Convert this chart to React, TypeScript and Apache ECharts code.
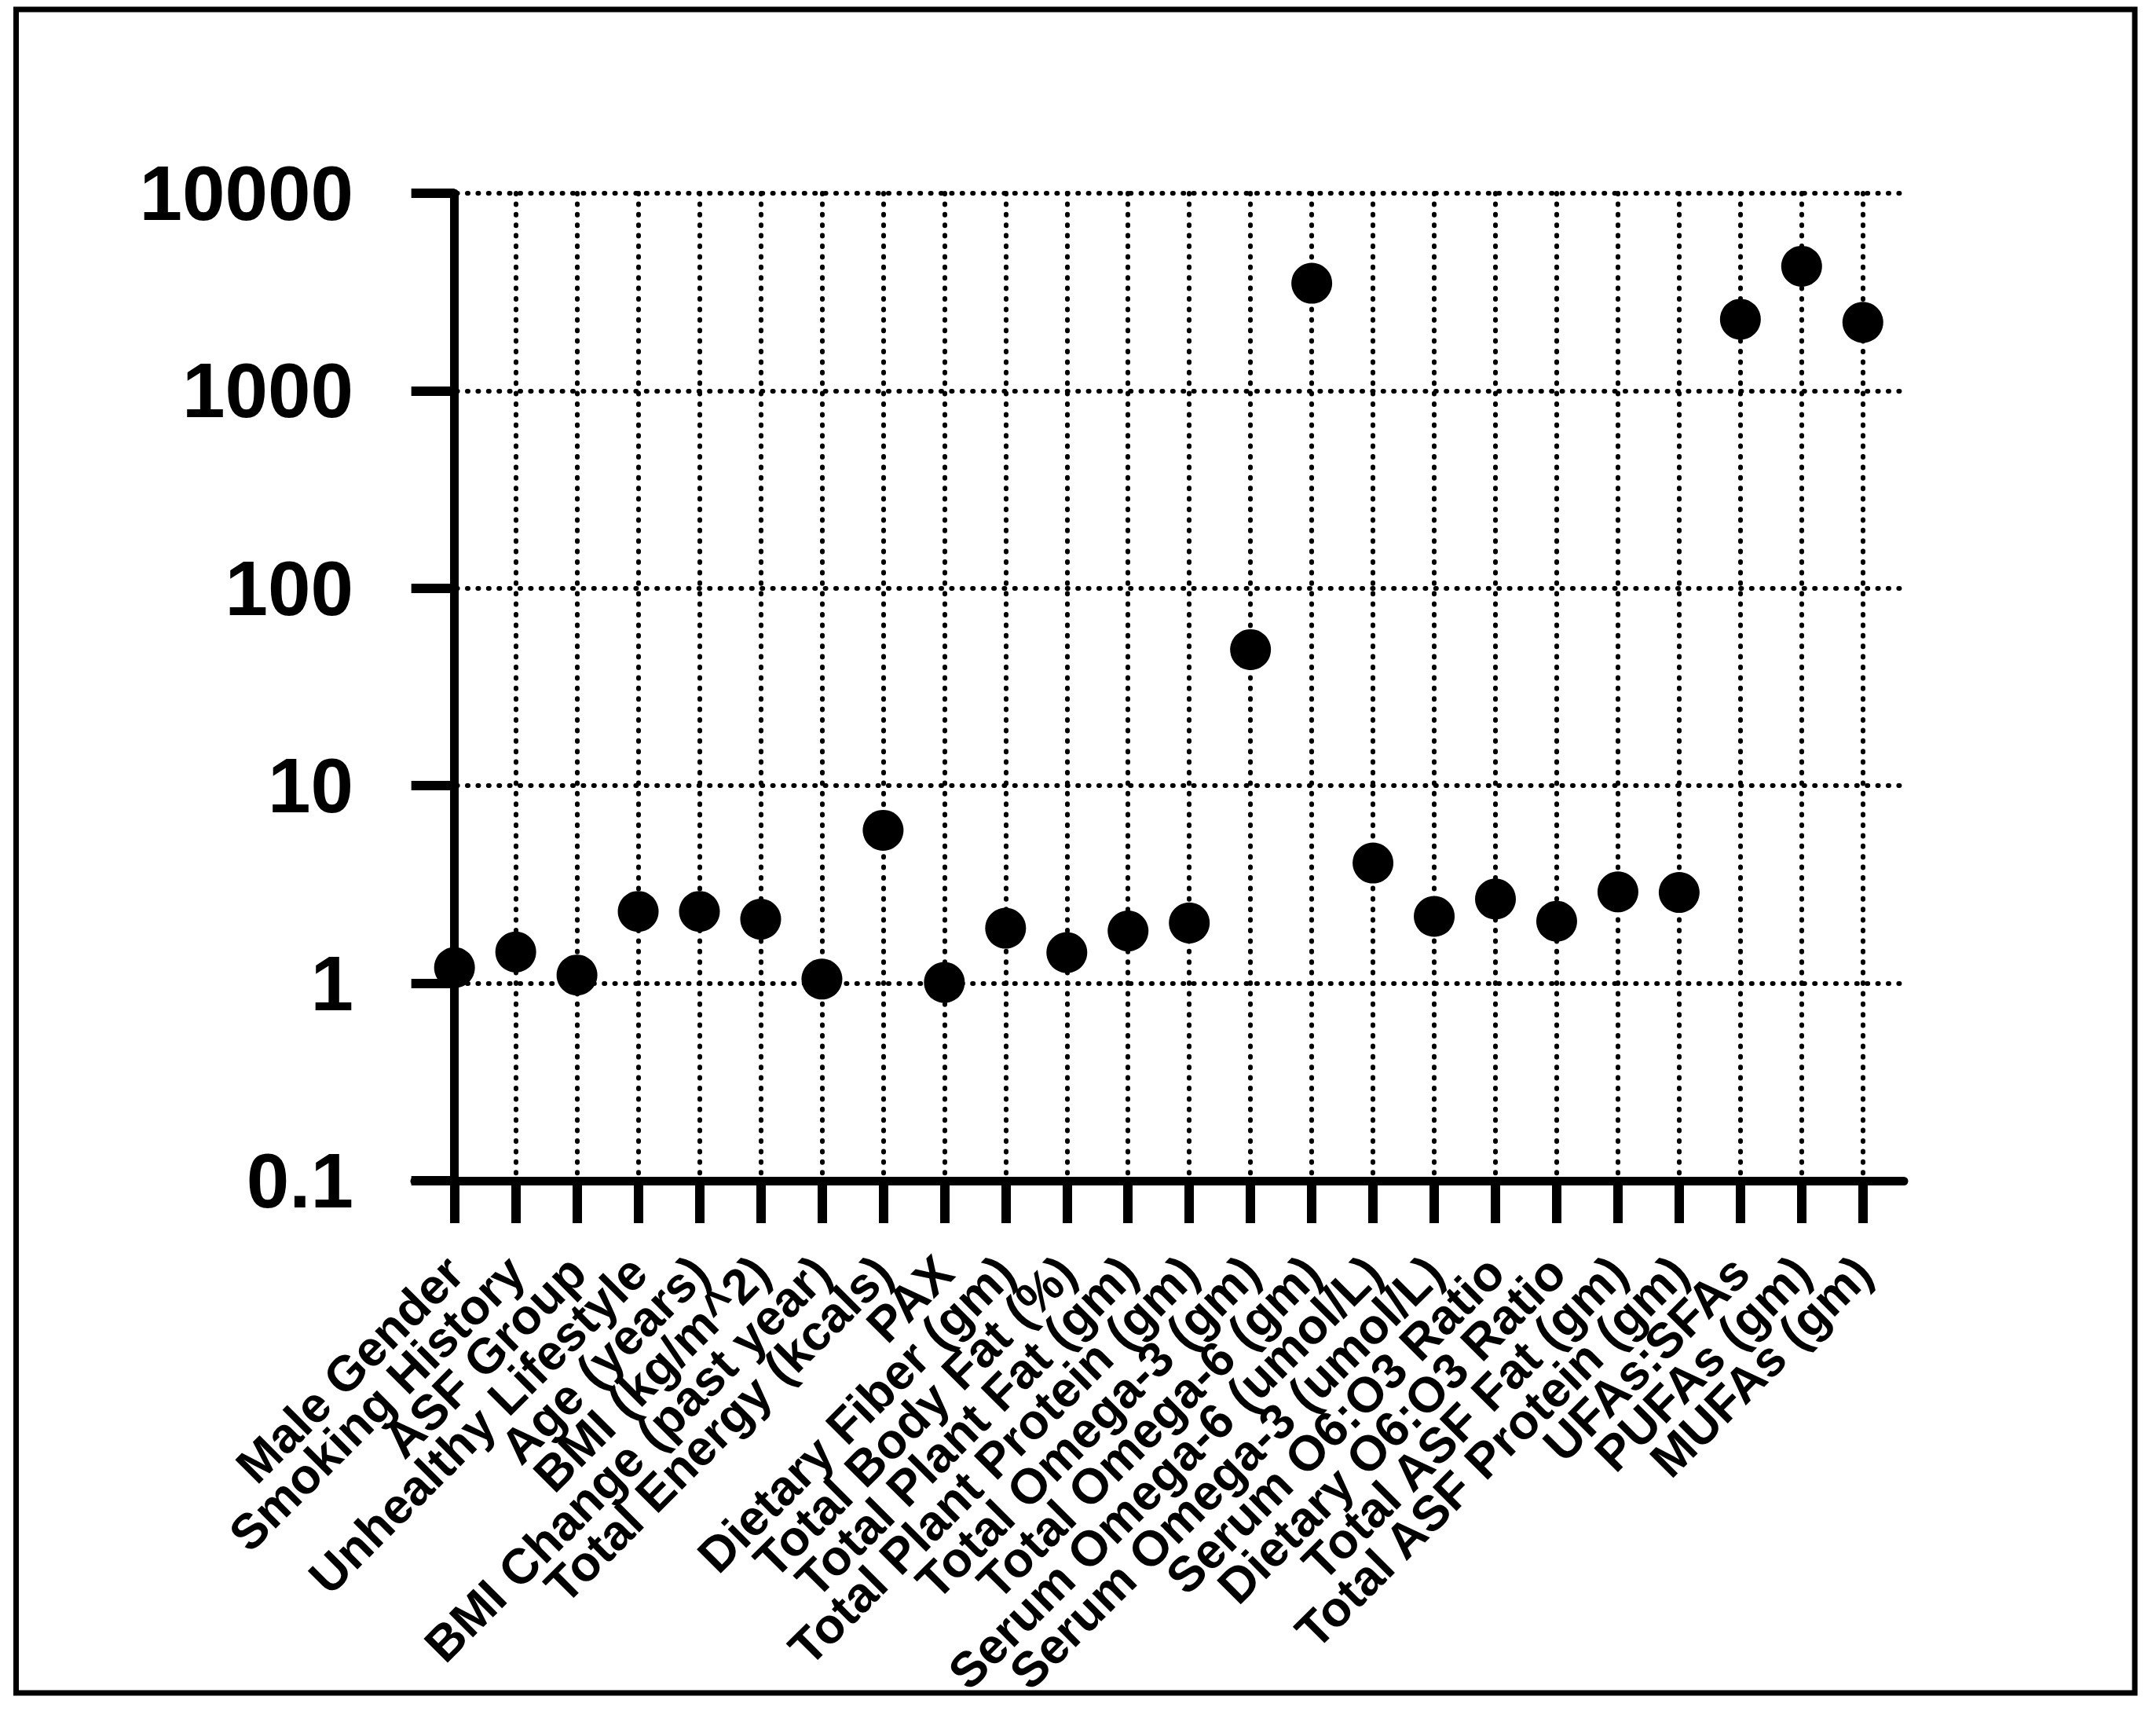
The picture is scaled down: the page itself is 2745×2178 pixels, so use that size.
import React, { useEffect, useRef } from "react";
import * as echarts from "echarts";

const categories: string[] = [
  "Male Gender",
  "Smoking History",
  "ASF Group",
  "Unhealthy Lifestyle",
  "Age (years)",
  "BMI (kg/m^2)",
  "BMI Change (past year)",
  "Total Energy (kcals)",
  "PAX",
  "Dietary Fiber (gm)",
  "Total Body Fat (%)",
  "Total Plant Fat (gm)",
  "Total Plant Protein (gm)",
  "Total Omega-3 (gm)",
  "Total Omega-6 (gm)",
  "Serum Omega-6 (umol/L)",
  "Serum Omega-3 (umol/L)",
  "Serum O6:O3 Ratio",
  "Dietary O6:O3 Ratio",
  "Total ASF Fat (gm)",
  "Total ASF Protein (gm)",
  "UFAs:SFAs",
  "PUFAs (gm)",
  "MUFAs (gm)",
];

const values: number[] = [
  1.2, 1.44, 1.1, 2.31, 2.31, 2.11, 1.05, 5.95, 1.01, 1.9, 1.43, 1.84, 2.02,
  48.9, 3500, 4.06, 2.18, 2.67, 2.06, 2.9, 2.88, 2300, 4270, 2220,
];

const yTicks: number[] = [0.1, 1, 10, 100, 1000, 10000];

const FONT = "'Liberation Sans', Arial, Helvetica, sans-serif";

export default function App() {
  const ref = useRef<HTMLDivElement>(null);

  useEffect(() => {
    if (!ref.current) return;
    const chart = echarts.init(ref.current, undefined, { renderer: "svg" });
    const dotted = {
      color: "#000",
      width: 6,
      type: [1, 12.4] as any,
      cap: "round" as any,
      opacity: 1,
    };
    const idx = categories.map((_, i) => i);
    const evenIdx = idx.filter((i) => i % 2 === 0);
    const oddIdx = idx.filter((i) => i % 2 === 1);

    const makeX = (vals: number[], showLine: boolean) => ({
      type: "value",
      position: "bottom",
      min: -0.65,
      max: 23.67,
      axisLine: {
        show: showLine,
        onZero: false,
        lineStyle: { color: "#000", width: 11 },
      },
      axisTick: {
        show: true,
        inside: false,
        length: 54,
        customValues: vals,
        lineStyle: { color: "#000", width: 12 },
      },
      axisLabel: {
        show: true,
        customValues: vals,
        showMinLabel: true,
        showMaxLabel: true,
        hideOverlap: false,
        rotate: 45,
        margin: 106,
        color: "#000",
        fontFamily: FONT,
        fontWeight: "bold",
        fontSize: 63,
        formatter: (v: number) => categories[Math.round(v)] ?? "",
      },
      splitLine: { show: true, lineStyle: dotted },
    });

    chart.setOption({
      animation: false,
      backgroundColor: "#fff",
      graphic: [
        {
          type: "rect",
          shape: { x: 20.5, y: 12, width: 2697.5, height: 2143 },
          style: { fill: "none", stroke: "#000", lineWidth: 7 },
          silent: true,
        },
      ],
      grid: {
        left: 528,
        right: 321,
        top: 246,
        bottom: 675,
        containLabel: false,
        outerBoundsMode: "none",
      },
      xAxis: [makeX(evenIdx, true), makeX(oddIdx, false)],
      yAxis: {
        type: "log",
        logBase: 10,
        min: yTicks[0],
        max: yTicks[yTicks.length - 1],
        axisLine: {
          show: true,
          lineStyle: { color: "#000", width: 11 },
        },
        axisTick: {
          show: true,
          inside: false,
          length: 55,
          lineStyle: { color: "#000", width: 12 },
        },
        axisLabel: {
          show: true,
          showMinLabel: true,
          showMaxLabel: true,
          margin: 78,
          color: "#000",
          fontFamily: FONT,
          fontWeight: "bold",
          fontSize: 98,
          formatter: (v: number) => {
            const found = yTicks.find((t) => Math.abs(t - v) / t < 1e-6);
            return found !== undefined ? String(found) : "";
          },
        },
        splitLine: { show: true, lineStyle: dotted },
      },
      series: [
        {
          type: "scatter",
          xAxisIndex: 0,
          symbol: "circle",
          symbolSize: 52,
          itemStyle: { color: "#000", opacity: 1 },
          data: values.map((v, i) => [i, v]),
          z: 10,
        },
      ],
    });
    return () => chart.dispose();
  }, []);

  return (
    <div
      ref={ref}
      style={{
        position: "absolute",
        left: 0,
        top: 0,
        width: 2745,
        height: 2178,
        background: "#fff",
      }}
    />
  );
}
